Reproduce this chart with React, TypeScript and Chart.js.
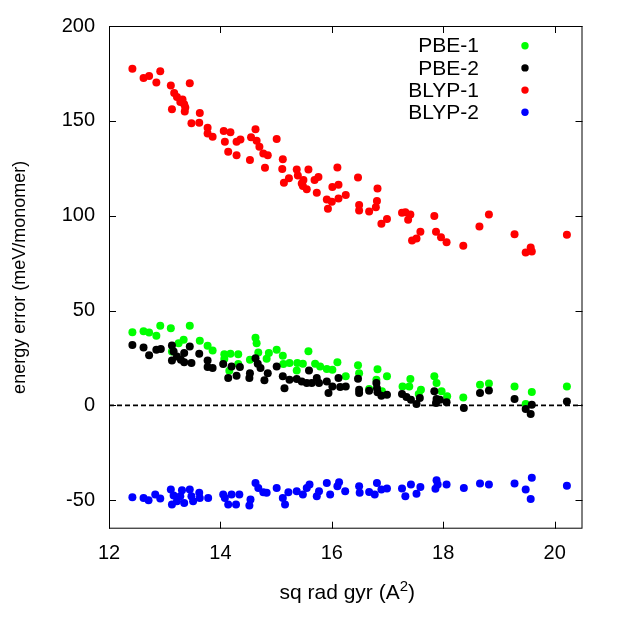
import React, { useEffect, useRef } from "react";
import { Chart, registerables } from "chart.js";

Chart.register(...registerables);

const FONT = "'Liberation Sans', Arial, Helvetica, sans-serif";

const X_TICKS = [12, 14, 16, 18, 20];
const Y_TICKS = [-50, 0, 50, 100, 150, 200];

const X_TITLE_MAIN = "sq rad gyr (A";
const X_TITLE_SUP = "2";
const X_TITLE_END = ")";
const Y_TITLE = "energy error (meV/monomer)";

const SERIES_NAMES = ["PBE-1", "PBE-2", "BLYP-1", "BLYP-2"];
const SERIES_COLORS = ["#00ff00", "#000000", "#ff0000", "#0000ff"];

const pbe1: [number, number][] = [
  [12.42, 38.6], [12.62, 39.1], [12.72, 38.4], [12.85, 36.7], [12.92, 42.0], [13.11, 40.7], [13.45, 42.0],
  [13.25, 32.8], [13.34, 34.6], [13.13, 28.4], [13.63, 34.1], [13.77, 31.4], [13.86, 29.0], [14.07, 27.0],
  [14.18, 27.2], [14.32, 27.0], [14.07, 24.4], [14.16, 18.3], [14.32, 21.8], [14.53, 24.1], [14.63, 35.6],
  [14.65, 32.8], [14.68, 27.9], [14.83, 24.6], [14.87, 27.6], [15.01, 29.3], [15.12, 26.2], [15.13, 21.8],
  [15.24, 22.3], [15.38, 22.3], [15.48, 21.9], [15.58, 28.6], [15.37, 18.4], [15.70, 21.9], [15.79, 20.5],
  [15.91, 19.2], [16.01, 18.8], [16.10, 22.8], [16.25, 15.3], [16.47, 21.1], [16.49, 17.0], [16.67, 8.6],
  [16.82, 19.1], [16.80, 13.5], [16.90, 7.4], [16.99, 15.3], [17.27, 10.0], [17.41, 13.9], [17.39, 10.0],
  [17.60, 8.3], [17.56, 6.0], [17.84, 15.3], [17.88, 11.8], [17.97, 7.4], [18.07, 4.8], [18.36, 4.2],
  [18.66, 10.9], [18.82, 11.6], [19.28, 10.0], [19.59, 7.0], [19.48, 0.7], [20.22, 10.0],
];

const pbe2: [number, number][] = [
  [12.42, 31.8], [12.62, 30.5], [12.72, 26.5], [12.85, 29.3], [12.93, 29.7], [13.13, 31.6], [13.16, 28.4],
  [13.13, 23.7], [13.22, 25.8], [13.29, 24.1], [13.35, 27.6], [13.35, 22.8], [13.48, 22.3], [13.45, 31.1],
  [13.62, 27.2], [13.77, 23.7], [13.77, 20.2], [13.86, 19.7], [14.05, 21.8], [14.14, 14.4], [14.20, 20.5],
  [14.29, 15.6], [14.35, 20.2], [14.53, 17.0], [14.52, 14.4], [14.63, 24.8], [14.67, 21.9], [14.72, 19.7],
  [14.79, 13.2], [14.85, 17.0], [15.01, 20.5], [15.12, 15.3], [15.15, 9.1], [15.24, 13.5], [15.37, 13.9],
  [15.46, 12.6], [15.55, 11.8], [15.59, 18.4], [15.64, 11.8], [15.73, 14.4], [15.77, 11.8], [15.91, 12.6],
  [15.94, 6.5], [16.01, 10.0], [16.12, 14.4], [16.15, 9.7], [16.25, 10.0], [16.47, 14.1], [16.49, 8.3],
  [16.49, 6.5], [16.67, 7.7], [16.80, 11.8], [16.81, 9.1], [16.82, 6.9], [16.89, 5.1], [16.99, 5.6],
  [17.26, 6.0], [17.34, 4.4], [17.42, 3.0], [17.52, 0.7], [17.58, 3.9], [17.84, 7.4], [17.88, 3.4],
  [17.94, 3.0], [18.06, 1.6], [17.87, 1.3], [18.37, -1.4], [18.66, 6.5], [18.82, 7.9], [19.28, 3.4],
  [19.48, -1.9], [19.59, 0.4], [19.57, -4.5], [20.22, 2.1],
];

const blyp1: [number, number][] = [
  [12.42, 177.4], [12.62, 172.6], [12.72, 173.7], [12.92, 176.1], [12.85, 170.2], [13.11, 168.6], [13.45, 169.8],
  [13.17, 164.7], [13.22, 162.6], [13.32, 161.2], [13.28, 160.0], [13.35, 158.8], [13.37, 157.0], [13.36, 154.9],
  [13.13, 156.1], [13.63, 154.2], [13.48, 148.8], [13.62, 149.0], [13.77, 146.3], [13.77, 143.3], [13.86, 141.6],
  [14.06, 144.6], [14.18, 144.0], [14.08, 139.0], [14.29, 139.0], [14.36, 140.2], [14.14, 133.7], [14.29, 131.9],
  [14.53, 129.3], [14.55, 141.4], [14.63, 145.6], [14.65, 139.5], [14.70, 136.3], [14.77, 132.8], [14.85, 131.8],
  [14.80, 125.3], [15.01, 140.4], [15.12, 129.8], [15.11, 124.6], [15.14, 117.4], [15.23, 119.7], [15.37, 124.4],
  [15.39, 121.2], [15.46, 117.0], [15.49, 118.8], [15.58, 124.4], [15.48, 115.6], [15.55, 113.9], [15.69, 118.8],
  [15.76, 120.4], [15.73, 112.1], [16.10, 125.4], [16.01, 115.1], [16.12, 116.3], [15.91, 108.6], [16.00, 107.4],
  [16.12, 109.1], [16.25, 110.9], [15.93, 103.7], [16.47, 120.2], [16.82, 114.3], [16.81, 107.8], [16.79, 104.4],
  [16.49, 105.7], [16.49, 102.7], [16.67, 102.2], [16.99, 98.3], [16.89, 95.7], [17.26, 101.6], [17.32, 101.8],
  [17.41, 100.6], [17.37, 97.8], [17.59, 91.5], [17.52, 88.0], [17.44, 86.9], [17.84, 99.9], [17.87, 91.5],
  [17.96, 88.6], [18.06, 86.0], [18.36, 84.1], [18.65, 94.3], [18.82, 100.6], [19.28, 90.2], [19.48, 80.6],
  [19.57, 83.2], [19.59, 81.1], [20.22, 89.9],
];

const blyp2: [number, number][] = [
  [12.42, -48.4], [12.62, -48.8], [12.71, -50.0], [12.83, -47.0], [12.92, -49.1], [13.11, -44.4], [13.16, -47.5],
  [13.13, -52.3], [13.22, -50.5], [13.28, -47.9], [13.31, -44.7], [13.35, -51.4], [13.45, -44.4], [13.48, -47.9],
  [13.51, -50.5], [13.62, -46.1], [13.63, -48.8], [13.78, -48.8], [14.05, -47.0], [14.08, -48.8], [14.14, -52.3],
  [14.20, -47.0], [14.28, -52.3], [14.34, -47.0], [14.52, -52.8], [14.54, -49.6], [14.63, -40.9], [14.68, -43.5],
  [14.77, -45.8], [14.83, -46.1], [15.01, -43.5], [15.12, -48.8], [15.16, -52.3], [15.22, -45.8], [15.37, -45.2],
  [15.48, -47.0], [15.55, -43.5], [15.60, -41.7], [15.73, -47.9], [15.77, -45.2], [15.91, -40.9], [15.97, -47.0],
  [16.10, -42.6], [16.13, -40.5], [16.24, -45.2], [16.49, -42.6], [16.50, -46.1], [16.67, -45.6], [16.77, -47.0],
  [16.81, -40.9], [16.89, -44.4], [16.99, -43.8], [17.26, -43.8], [17.32, -47.9], [17.42, -41.7], [17.52, -46.6],
  [17.59, -43.0], [17.86, -44.0], [17.88, -39.5], [17.90, -41.7], [18.06, -41.7], [18.37, -43.5], [18.66, -41.2],
  [18.82, -41.7], [19.28, -41.2], [19.48, -44.4], [19.59, -38.2], [19.57, -49.3], [20.22, -42.3],
];

const SERIES_DATA = [pbe1, pbe2, blyp1, blyp2];

const framePlugin = {
  id: "gnuFrame",
  beforeDatasetsDraw(chart: any) {
    const { ctx, chartArea: a, scales } = chart;
    const y0 = scales.y.getPixelForValue(0);
    ctx.save();
    ctx.strokeStyle = "#000";
    ctx.lineWidth = 1.6;
    ctx.setLineDash([5, 3]);
    ctx.beginPath();
    ctx.moveTo(a.left, y0);
    ctx.lineTo(a.right, y0);
    ctx.stroke();
    ctx.restore();
  },
  afterDatasetsDraw(chart: any) {
    const { ctx, chartArea: a, scales } = chart;
    ctx.save();
    ctx.strokeStyle = "#000";
    ctx.lineWidth = 1;
    ctx.setLineDash([]);
    ctx.strokeRect(a.left + 0.5, a.top + 0.5, a.right - a.left - 1, a.bottom - a.top - 1);
    const tl = 7;
    ctx.beginPath();
    X_TICKS.forEach((v) => {
      const px = Math.round(scales.x.getPixelForValue(v)) + 0.5;
      ctx.moveTo(px, a.bottom);
      ctx.lineTo(px, a.bottom - tl);
      ctx.moveTo(px, a.top);
      ctx.lineTo(px, a.top + tl);
    });
    Y_TICKS.forEach((v) => {
      const py = Math.round(scales.y.getPixelForValue(v)) + 0.5;
      ctx.moveTo(a.left, py);
      ctx.lineTo(a.left + tl, py);
      ctx.moveTo(a.right, py);
      ctx.lineTo(a.right - tl, py);
    });
    ctx.stroke();

    // legend
    ctx.font = `21px ${FONT}`;
    ctx.textAlign = "right";
    ctx.textBaseline = "middle";
    const rows = [45.7, 67.9, 90.1, 112.3];
    SERIES_NAMES.forEach((name, i) => {
      const y = rows[i];
      ctx.fillStyle = "#000";
      ctx.fillText(name, 479, y + 1);
      ctx.fillStyle = SERIES_COLORS[i];
      ctx.beginPath();
      ctx.arc(525, y, 3.7, 0, Math.PI * 2);
      ctx.fill();
    });

    // x axis title with superscript
    const cx = (a.left + a.right) / 2 + 1.5;
    const base = 599;
    ctx.fillStyle = "#000";
    ctx.textAlign = "left";
    ctx.textBaseline = "alphabetic";
    const mainFont = `21px ${FONT}`;
    const supFont = `15px ${FONT}`;
    ctx.font = mainFont;
    const w1 = ctx.measureText(X_TITLE_MAIN).width;
    const w3 = ctx.measureText(X_TITLE_END).width;
    ctx.font = supFont;
    const w2 = ctx.measureText(X_TITLE_SUP).width;
    let x = cx - (w1 + w2 + w3) / 2;
    ctx.font = mainFont;
    ctx.fillText(X_TITLE_MAIN, x, base);
    x += w1;
    ctx.font = supFont;
    ctx.fillText(X_TITLE_SUP, x, base - 8);
    x += w2;
    ctx.font = mainFont;
    ctx.fillText(X_TITLE_END, x, base);
    ctx.restore();
  },
};

export default function App() {
  const ref = useRef<HTMLCanvasElement | null>(null);

  useEffect(() => {
    if (!ref.current) return;
    const chart = new Chart(ref.current, {
      type: "scatter",
      data: {
        datasets: SERIES_NAMES.map((name, i) => ({
          label: name,
          data: SERIES_DATA[i].map(([x, y]) => ({ x, y })),
          backgroundColor: SERIES_COLORS[i],
          borderColor: SERIES_COLORS[i],
          borderWidth: 0,
          pointRadius: 4,
          pointHoverRadius: 4,
          order: SERIES_NAMES.length - i,
        })),
      },
      options: {
        animation: false,
        responsive: false,
        devicePixelRatio: 1,
        layout: { padding: { top: 25.7, right: 40.5, left: 0, bottom: 0 } },
        plugins: { legend: { display: false }, tooltip: { enabled: false } },
        events: [],
        scales: {
          x: {
            type: "linear",
            min: 12,
            max: 20.5,
            afterBuildTicks: (s: any) => {
              s.ticks = X_TICKS.map((v) => ({ value: v }));
            },
            afterFit: (s: any) => {
              s.height = 623 - 528.7;
            },
            grid: { display: false, drawTicks: false },
            border: { display: false },
            ticks: { padding: 13, color: "#000", font: { family: FONT, size: 20 }, maxRotation: 0 },
            title: { display: false },
          },
          y: {
            type: "linear",
            min: -65,
            max: 200,
            afterBuildTicks: (s: any) => {
              s.ticks = Y_TICKS.map((v) => ({ value: v }));
            },
            afterFit: (s: any) => {
              s.width = 109;
            },
            grid: { display: false, drawTicks: false },
            border: { display: false },
            ticks: { padding: 14, color: "#000", font: { family: FONT, size: 20 } },
            title: {
              display: true,
              text: Y_TITLE,
              color: "#000",
              font: { family: FONT, size: 18 },
              padding: { top: 9, bottom: 0 },
            },
          },
        },
      },
      plugins: [framePlugin],
    });
    return () => chart.destroy();
  }, []);

  return (
    <div style={{ position: "absolute", left: 0, top: 0, width: 623, height: 623, background: "#fff" }}>
      <canvas ref={ref} width={623} height={623} />
    </div>
  );
}
